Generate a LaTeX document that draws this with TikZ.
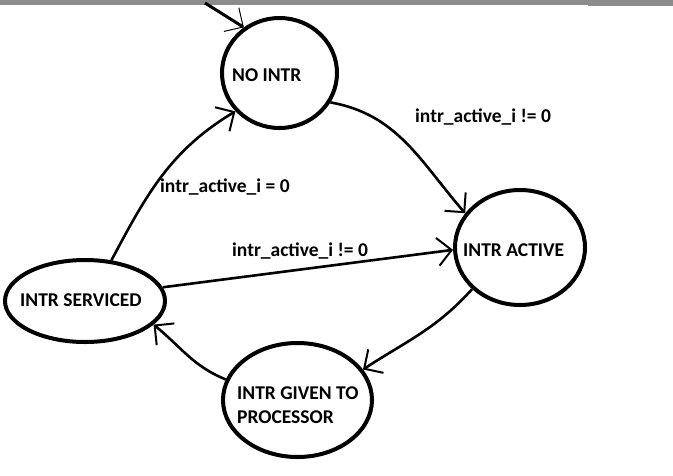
\documentclass[tikz,border=0pt]{standalone}
\usepackage{fontspec}
\setmainfont{Carlito}
\usetikzlibrary{shapes.geometric,arrows.meta}
\tikzset{
  state/.style={ellipse, draw, line width=4pt, inner sep=0pt},
  txt/.style={inner sep=0pt, anchor=west, align=left, font=\bfseries\fontsize{19.5}{24}\selectfont},
  trans/.style={line width=2.6pt, -{Straight Barb[length=14pt,width=28pt,line width=2pt]}},
}
\begin{document}
\begin{tikzpicture}[x=1pt,y=-1pt]
        \useasboundingbox (0,0) rectangle (673,475);
        \fill[black!45] (0,0) rectangle (588,4.5);
        \fill[black!45] (588,0) rectangle (673,6);

        \node[state, minimum width=115pt, minimum height=110pt] (noint) at (279.5,73) {};
        \node[state, minimum width=130pt, minimum height=115pt] (active) at (520,247.5) {};
        \node[state, minimum width=160pt, minimum height=82pt] (serviced) at (85,301) {};
        \node[state, minimum width=149pt, minimum height=114pt] (given) at (297.5,400) {};

        \node[txt] (nointtxt) at (232,75) {NO INTR};
        \node[txt] (activetxt) at (463,250) {INTR ACTIVE};
        \node[txt] (servicedtxt) at (20,300) {INTR SERVICED};
        \node[txt] (giventxt) at (237,405) {INTR GIVEN TO\\PROCESSOR};

        \coordinate (start) at (205,3);
        \draw[line width=3pt, -{Straight Barb[length=14pt,width=28pt,line width=1pt]}] (start) -- (noint.128);

        \draw[trans] (noint.-30) to[out=-10, in=131] (active.148);
        \draw[trans] (active.221) to[out=228, in=33] (given.25);
        \draw[trans] (given.164) to[out=158, in=-39] (serviced.-19);
        \draw[trans] (serviced.10) -- (active.182);
        \draw[trans] (serviced.57) to[out=62, in=211] (noint.221);

        \node[txt] (lblup) at (415,117) {intr\_active\_i != 0};
        \node[txt] (lblleft) at (160,187) {intr\_active\_i = 0};
        \node[txt] (lblmid) at (232,251) {intr\_active\_i != 0};
\end{tikzpicture}
\end{document}
